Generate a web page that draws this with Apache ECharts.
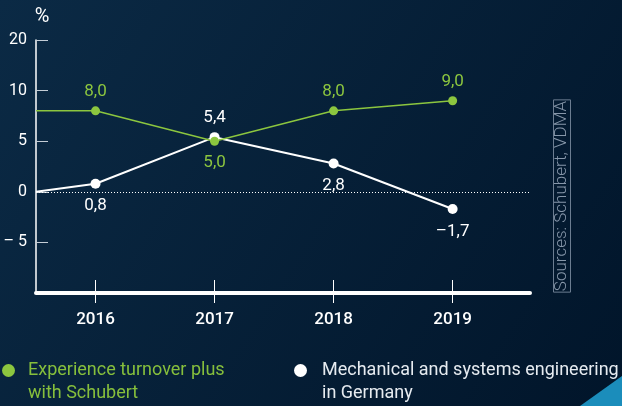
<!DOCTYPE html>
<html>
<head>
<meta charset="utf-8">
<script src="https://cdn.jsdelivr.net/npm/echarts@6/dist/echarts.min.js"></script>
<style>
  html, body { margin: 0; padding: 0; background: #04203a; }
  #chart { width: 622px; height: 406px; }
</style>
</head>
<body>
<div id="chart"></div>
<script>
// ---- data ----
const years = [2016, 2017, 2018, 2019];
const schubert = [8.0, 5.0, 8.0, 9.0];   // Experience turnover plus with Schubert
const germany = [0.8, 5.4, 2.8, -1.7];   // Mechanical and systems engineering in Germany
// lines run in from the left edge of the plot
const leadInYear = 2015.5;
const schubertLeadIn = 8.0;
const germanyLeadIn = 0;
// y axis is broken at the top: the 15 slot is labelled 20
const yTickValues = [-5, 0, 5, 10, 15];
const yTickLabels = ["– 5", "0", "5", "10", "20"];

const nameGreen = "Experience turnover plus with Schubert";
const nameWhite = "Mechanical and systems engineering in Germany";
const green = "#8cc63f";
const white = "#ffffff";

// where each value label sits
const greenLabelPos = ["top", "bottom", "top", "top"];
const whiteLabelPos = ["bottom", "top", "bottom", "bottom"];

function fmt(v) {
  return v.toFixed(1).replace(".", ",").replace("-", "–");
}

function buildData(lead, vals, pos) {
  const out = [{ value: [leadInYear, lead], symbol: "none", label: { show: false } }];
  vals.forEach((v, i) => {
    out.push({
      value: [years[i], v],
      label: { position: pos[i], distance: pos[i] === "bottom" ? 9 : 6 },
    });
  });
  return out;
}

const chart = echarts.init(document.getElementById("chart"));

// legend text: empty first line so the dot lines up with the first text line
const legendText = {
  fontFamily: "Roboto",
  fontSize: 18,
  lineHeight: 23,
};

const option = {
  backgroundColor: new echarts.graphic.LinearGradient(0, 0, 1, 1, [
    { offset: 0, color: "#0b2a45" },
    { offset: 1, color: "#01152a" },
  ]),
  animation: false,
  grid: { left: 36, top: 40, right: 92, bottom: 113 },
  legend: [
    {
      left: 2,
      top: 336,
      padding: 0,
      data: [nameGreen],
      icon: "circle",
      itemWidth: 13,
      itemHeight: 13,
      formatter: "\nExperience turnover plus\nwith Schubert",
      textStyle: Object.assign({ color: "#86bf3c", padding: [0, 0, 0, 8] }, legendText),
    },
    {
      left: 294,
      top: 336,
      padding: 0,
      data: [nameWhite],
      icon: "circle",
      itemWidth: 13,
      itemHeight: 13,
      formatter: "\nMechanical and systems engineering\nin Germany",
      textStyle: Object.assign({ color: "#e6ebf0", padding: [0, 0, 0, 10] }, legendText),
    },
  ],
  xAxis: [
    {
      type: "value",
      min: 2015.5,
      max: 2019.65,
      position: "bottom",
      axisLine: { onZero: false, lineStyle: { color: white, width: 4 } },
      axisTick: {
        customValues: years,
        inside: true,
        length: 13,
        lineStyle: { color: white, width: 1 },
      },
      axisLabel: {
        customValues: years,
        formatter: (v) => String(v),
        color: white,
        fontFamily: "Roboto",
        fontSize: 17,
        fontWeight: 500,
        margin: 18,
      },
      splitLine: { show: false },
    },
    {
      // second axis only for the tick parts below the line
      type: "value",
      min: 2015.5,
      max: 2019.65,
      position: "bottom",
      axisLine: { show: false, onZero: false },
      axisTick: {
        customValues: years,
        length: 10,
        lineStyle: { color: white, width: 1 },
      },
      axisLabel: { show: false },
      splitLine: { show: false },
    },
  ],
  yAxis: {
    type: "value",
    min: -10,
    max: 15,
    interval: 5,
    axisLine: { show: true, onZero: false, lineStyle: { color: white, width: 1.5 } },
    axisTick: {
      customValues: yTickValues,
      inside: true,
      length: 12,
      lineStyle: { color: "#c4cdd6", width: 1 },
    },
    axisLabel: {
      customValues: yTickValues,
      formatter: (v) => yTickLabels[yTickValues.indexOf(v)],
      color: white,
      fontFamily: "Roboto",
      fontSize: 16,
      margin: 9,
    },
    splitLine: { show: false },
  },
  graphic: [
    {
      type: "text",
      x: 42,
      y: 17,
      style: {
        text: "%",
        fill: white,
        font: "20px Roboto",
        align: "center",
        verticalAlign: "middle",
      },
    },
    {
      type: "text",
      x: 562,
      y: 196,
      rotation: Math.PI / 2,
      style: {
        text: "Sources: Schubert, VDMA",
        fill: "#8797aa",
        font: "300 17px Roboto",
        align: "center",
        verticalAlign: "middle",
        borderColor: "#6c7d91",
        borderWidth: 1,
        padding: [0, 1],
      },
    },
    {
      type: "polygon",
      shape: { points: [[580, 406], [622, 376], [622, 406]] },
      style: { fill: "#1b8dbb" },
    },
  ],
  series: [
    {
      name: nameWhite,
      type: "line",
      data: buildData(germanyLeadIn, germany, whiteLabelPos),
      symbol: "circle",
      symbolSize: 10,
      lineStyle: { color: white, width: 2 },
      itemStyle: { color: white },
      label: {
        show: true,
        formatter: (p) => fmt(p.value[1]),
        color: white,
        fontFamily: "Roboto",
        fontSize: 17,
      },
      markLine: {
        silent: true,
        symbol: "none",
        label: { show: false },
        lineStyle: { color: white, type: [1, 2], width: 1 },
        data: [{ yAxis: 0 }],
      },
    },
    {
      name: nameGreen,
      type: "line",
      data: buildData(schubertLeadIn, schubert, greenLabelPos),
      symbol: "circle",
      symbolSize: 9,
      lineStyle: { color: green, width: 1.5 },
      itemStyle: { color: green },
      label: {
        show: true,
        formatter: (p) => fmt(p.value[1]),
        color: green,
        fontFamily: "Roboto",
        fontSize: 17,
      },
    },
  ],
};

chart.setOption(option);
</script>
</body>
</html>
